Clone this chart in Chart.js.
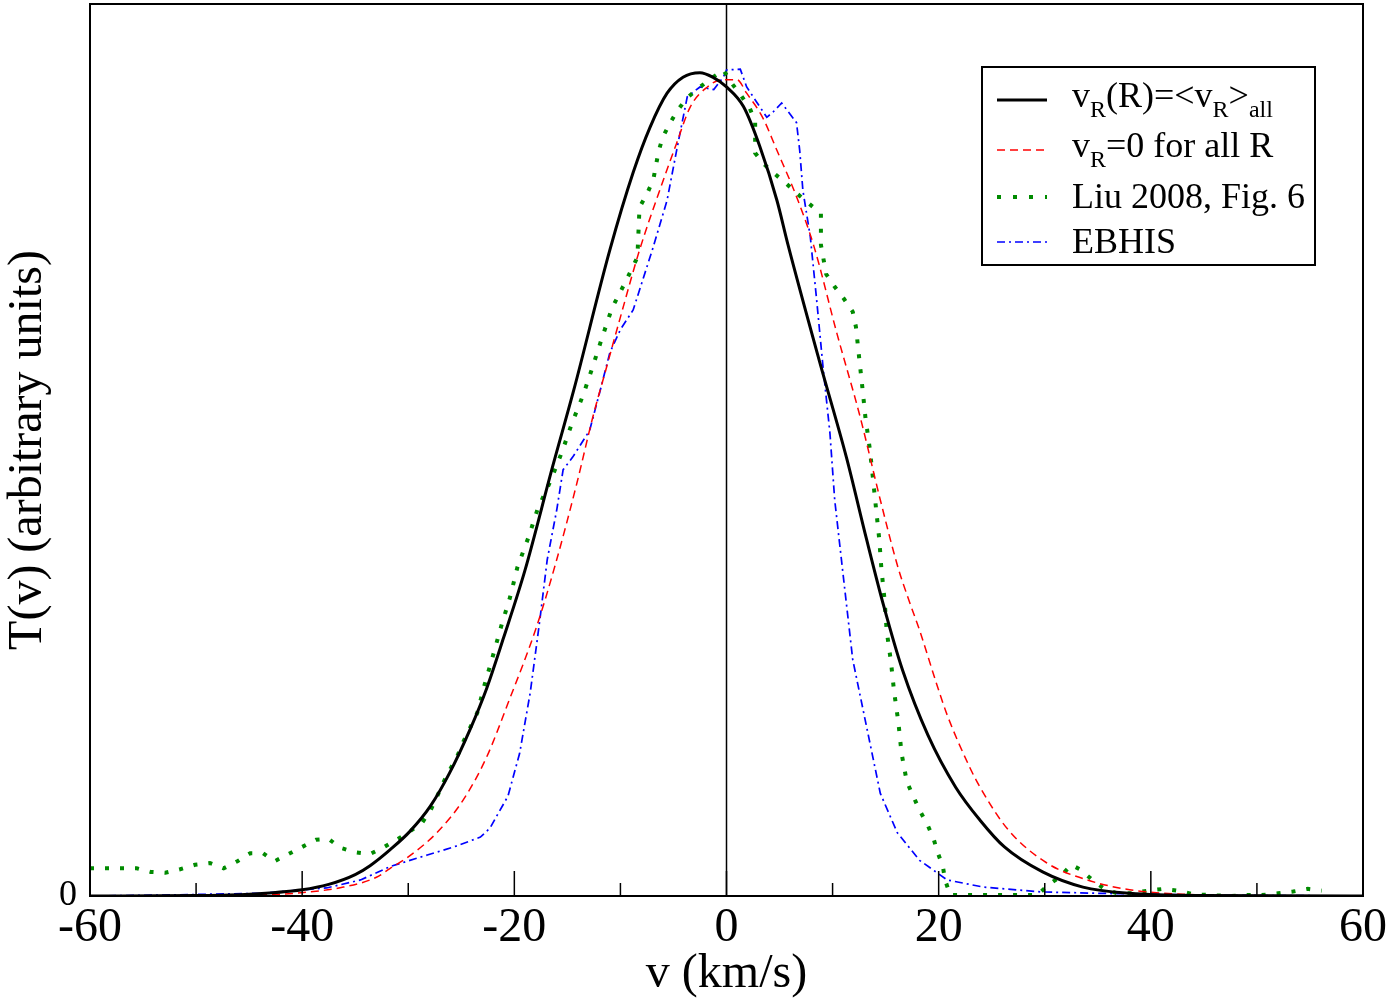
<!DOCTYPE html>
<html>
<head>
<meta charset="utf-8">
<script src="https://cdn.jsdelivr.net/npm/chart.js@4.4.1/dist/chart.umd.min.js"></script>
<style>
  html, body { margin: 0; padding: 0; background: #fff; }
  #wrap { width: 1392px; height: 1003px; }
</style>
</head>
<body>
<div id="wrap"><canvas id="profilo" width="1392" height="1003"></canvas></div>
<script>
// Velocita (km/s) e temperatura (unita arbitrarie) per ogni curva
const vNero = [-60, -50, -45, -40, -37.5, -35, -33.6, -31.7, -29.8, -27.9, -26.1, -24.2, -22.6, -21, -19, -16.4, -14.4, -11, -8.8, -7.2, -5.6, -4.1, -2.5, -1.3, 0, 1.6, 3.15, 4.75, 5.8, 8.8, 11.3, 13.2, 14.8, 16.6, 19.0, 21.6, 23.9, 26.2, 29.8, 33.6, 38, 45, 60];
const tNero = [0, 0.0005, 0.002, 0.007, 0.013, 0.024, 0.034, 0.052, 0.073, 0.101, 0.138, 0.186, 0.233, 0.29, 0.365, 0.481, 0.567, 0.724, 0.811, 0.862, 0.900, 0.918, 0.923, 0.918, 0.907, 0.885, 0.840, 0.780, 0.730, 0.598, 0.492, 0.400, 0.326, 0.253, 0.180, 0.122, 0.085, 0.055, 0.027, 0.010, 0.003, 0.0005, 0];

const vRosso = [-60, -50, -45, -40.8, -36.1, -33, -31.7, -30.1, -27.3, -24.8, -22.6, -20.6, -17.9, -16.1, -14.1, -12.6, -11.3, -10, -8.2, -6.3, -4.7, -3.4, -1.8, -0.5, 1.0, 1.9, 3.4, 4.75, 6.6, 8.25, 10.4, 12.6, 14.5, 16.2, 17.3, 18.2, 19.8, 20.8, 22.9, 23.9, 26.5, 30.2, 34, 38, 43, 50, 60];
const tRosso = [0, 0.0003, 0.001, 0.003, 0.010, 0.021, 0.031, 0.043, 0.071, 0.108, 0.156, 0.216, 0.302, 0.373, 0.463, 0.537, 0.593, 0.649, 0.724, 0.791, 0.844, 0.885, 0.907, 0.915, 0.915, 0.900, 0.873, 0.836, 0.784, 0.728, 0.631, 0.537, 0.444, 0.367, 0.328, 0.298, 0.238, 0.203, 0.145, 0.122, 0.075, 0.037, 0.018, 0.007, 0.002, 0.0003, 0];

const vVerde = [-60, -55.6, -54.3, -52.9, -51.5, -50.1, -48.7, -47.4, -46.1, -44.9, -43.7, -42.6, -41.3, -40, -38.7, -37.5, -36.4, -35, -33.6, -32.4, -31.1, -29.9, -28.7, -27.9, -27.3, -26.7, -26.1, -25.4, -24.8, -24.2, -23.5, -22.8, -22.0, -21.2, -20.4, -19.7, -18.7, -17.8, -16.6, -15.5, -14.6, -13.5, -12.6, -11.7, -10.8, -9.5, -8.4, -8.2, -7.5, -6.9, -6.4, -6.0, -5.3, -4.6, -3.7, -2.6, -1.5, -0.3, 0.5, 1.4, 2.2, 2.7, 2.7, 3.4, 4.6, 5.7, 6.7, 7.8, 8.9, 8.9, 9.4, 10.2, 11.1, 11.9, 12.2, 12.5, 12.8, 13.1, 13.5, 13.8, 14.1, 14.4, 14.6, 14.9, 15.1, 15.5, 15.8, 16.2, 16.5, 17.0, 17.6, 18.2, 18.9, 19.5, 19.9, 20.4, 20.6, 21.1, 29.3, 30.3, 31.5, 32.5, 33.3, 34.4, 35.5, 36.8, 38.3, 39.7, 41.2, 42.5, 44, 47.4, 49, 50.4, 52, 53.4, 54.8, 56.1];
const tVerde = [0.031, 0.031, 0.027, 0.026, 0.030, 0.035, 0.037, 0.031, 0.039, 0.048, 0.048, 0.039, 0.047, 0.055, 0.063, 0.064, 0.054, 0.049, 0.047, 0.054, 0.063, 0.072, 0.082, 0.096, 0.111, 0.127, 0.141, 0.156, 0.173, 0.188, 0.205, 0.237, 0.270, 0.304, 0.335, 0.369, 0.401, 0.434, 0.465, 0.498, 0.529, 0.562, 0.594, 0.627, 0.659, 0.689, 0.716, 0.772, 0.787, 0.803, 0.835, 0.851, 0.867, 0.881, 0.895, 0.906, 0.916, 0.926, 0.911, 0.897, 0.883, 0.868, 0.833, 0.822, 0.809, 0.798, 0.787, 0.776, 0.765, 0.730, 0.697, 0.683, 0.669, 0.655, 0.638, 0.604, 0.571, 0.536, 0.502, 0.469, 0.434, 0.400, 0.367, 0.332, 0.297, 0.263, 0.229, 0.195, 0.160, 0.128, 0.112, 0.096, 0.081, 0.065, 0.049, 0.033, 0.018, 0.001, 0.001, 0.012, 0.022, 0.035, 0.030, 0.019, 0.009, 0.003, 0.003, 0.006, 0.008, 0.006, 0.002, 0, 0.001, 0.001, 0.003, 0.005, 0.008, 0.006];

const vBlu = [-60, -53.4, -44, -37.7, -34.5, -31.7, -28.2, -25.7, -23.2, -22.3, -20.6, -19.5, -18.5, -17.6, -16.9, -16.0, -15.4, -14.5, -12.9, -11.9, -11.0, -10.0, -8.8, -7.0, -5.6, -4.7, -3.7, -2.5, -1.2, -0.3, 0, 1.3, 1.9, 2.9, 3.8, 4.4, 5.2, 6.6, 6.9, 7.2, 7.9, 8.5, 9.1, 9.75, 10.2, 10.9, 11.9, 13.2, 14.5, 16.1, 18.2, 20.8, 24.2, 29.8, 35.2, 44.6, 60];
const tBlu = [0, 0.001, 0.003, 0.009, 0.018, 0.033, 0.046, 0.055, 0.066, 0.076, 0.112, 0.160, 0.228, 0.309, 0.377, 0.433, 0.478, 0.492, 0.522, 0.567, 0.609, 0.635, 0.657, 0.724, 0.78, 0.836, 0.896, 0.907, 0.904, 0.918, 0.926, 0.927, 0.907, 0.889, 0.873, 0.879, 0.889, 0.867, 0.836, 0.791, 0.739, 0.668, 0.593, 0.519, 0.444, 0.370, 0.265, 0.190, 0.115, 0.071, 0.040, 0.018, 0.010, 0.0045, 0.003, 0.001, 0];

const tickMaggiori = [-60, -40, -20, 0, 20, 40, 60];
const tickMinori = [-50, -30, -10, 10, 30, 50];

const FONT = "'Liberation Serif', 'DejaVu Serif', serif";

function punti(vs, ts) {
    return vs.map((v, i) => ({ x: v, y: ts[i] }));
}

// Plugin: cornice, tacche interne, linea a v=0 e legenda con pedici
const cornice = {
    id: 'cornice',
    beforeDatasetsDraw(chart) {
        const { ctx, chartArea: a, scales: { x } } = chart;
        ctx.save();
        ctx.strokeStyle = '#000';
        ctx.lineWidth = 1.5;
        const x0 = x.getPixelForValue(0);
        ctx.beginPath();
        ctx.moveTo(x0, a.top);
        ctx.lineTo(x0, a.bottom);
        ctx.stroke();
        ctx.restore();
    },
    afterDatasetsDraw(chart) {
        const { ctx, chartArea: a, scales: { x } } = chart;
        ctx.save();
        ctx.strokeStyle = '#000';
        ctx.lineWidth = 2;
        ctx.strokeRect(a.left, a.top, a.right - a.left, a.bottom - a.top);
        ctx.lineWidth = 1.5;
        tickMaggiori.forEach(v => {
            const px = x.getPixelForValue(v);
            ctx.beginPath(); ctx.moveTo(px, a.bottom); ctx.lineTo(px, a.bottom - 25); ctx.stroke();
        });
        tickMinori.forEach(v => {
            const px = x.getPixelForValue(v);
            ctx.beginPath(); ctx.moveTo(px, a.bottom); ctx.lineTo(px, a.bottom - 13); ctx.stroke();
        });

        // legenda
        const L = 982, T = 67, R = 1315, B = 265;
        ctx.fillStyle = '#fff';
        ctx.fillRect(L, T, R - L, B - T);
        ctx.lineWidth = 2;
        ctx.strokeRect(L, T, R - L, B - T);
        const righe = [
            { y: 100, col: '#000', w: 3, dash: [], testo: [['v', 0], ['R', 1], ['(R)=<v', 0], ['R', 1], ['>', 0], ['all', 1]], base: 107 },
            { y: 150, col: '#ff0000', w: 1.5, dash: [8, 5], testo: [['v', 0], ['R', 1], ['=0 for all R', 0]], base: 157 },
            { y: 197, col: '#008b00', w: 4, dash: [4, 12], testo: [['Liu 2008, Fig. 6', 0]], base: 208 },
            { y: 242, col: '#0000ff', w: 1.5, dash: [8, 4, 2, 4], testo: [['EBHIS', 0]], base: 253 }
        ];
        righe.forEach(r => {
            ctx.strokeStyle = r.col;
            ctx.lineWidth = r.w;
            ctx.setLineDash(r.dash);
            ctx.beginPath(); ctx.moveTo(997, r.y); ctx.lineTo(1047, r.y); ctx.stroke();
            ctx.setLineDash([]);
            ctx.fillStyle = '#000';
            ctx.textBaseline = 'alphabetic';
            ctx.textAlign = 'left';
            let cx = 1072;
            r.testo.forEach(([s, sub]) => {
                ctx.font = (sub ? '24px ' : '36px ') + FONT;
                ctx.fillText(s, cx, r.base + (sub ? 10 : 0));
                cx += ctx.measureText(s).width;
            });
        });
        ctx.restore();
    }
};

new Chart(document.getElementById('profilo').getContext('2d'), {
    type: 'line',
    data: {
        datasets: [
            { data: punti(vNero, tNero), borderColor: '#000', borderWidth: 3, cubicInterpolationMode: 'monotone' },
            { data: punti(vRosso, tRosso), borderColor: '#ff0000', borderWidth: 1.5, borderDash: [8, 5], cubicInterpolationMode: 'monotone' },
            { data: punti(vVerde, tVerde), borderColor: '#008b00', borderWidth: 4, borderDash: [4, 11], tension: 0 },
            { data: punti(vBlu, tBlu), borderColor: '#0000ff', borderWidth: 1.7, borderDash: [8, 4, 2, 4], tension: 0 }
        ]
    },
    options: {
        responsive: false,
        animation: false,
        devicePixelRatio: 1,
        elements: { point: { radius: 0 } },
        layout: { padding: { top: 4, right: 29, left: 0, bottom: 0 } },
        plugins: { legend: { display: false }, tooltip: { enabled: false } },
        scales: {
            x: {
                type: 'linear',
                min: -60,
                max: 60,
                grid: { display: false, drawTicks: false },
                border: { display: false },
                ticks: { stepSize: 20, color: '#000', font: { family: FONT, size: 48 }, padding: 4, maxRotation: 0 },
                title: { display: true, text: 'v (km/s)', color: '#000', font: { family: FONT, size: 48 }, padding: 0 },
                afterFit(s) { s.height = 107; s.paddingLeft = 0; s.paddingRight = 0; }
            },
            y: {
                min: 0,
                max: 1,
                grid: { display: false, drawTicks: false },
                border: { display: false },
                ticks: { color: '#000', font: { family: FONT, size: 36 }, padding: 13 },
                afterBuildTicks(s) { s.ticks = [{ value: 0 }]; },
                title: { display: true, text: 'T(v) (arbitrary units)', color: '#000', font: { family: FONT, size: 48 }, padding: 0 },
                afterFit(s) { s.width = 90; s.paddingTop = 0; s.paddingBottom = 0; }
            }
        }
    },
    plugins: [cornice]
});
</script>
</body>
</html>
